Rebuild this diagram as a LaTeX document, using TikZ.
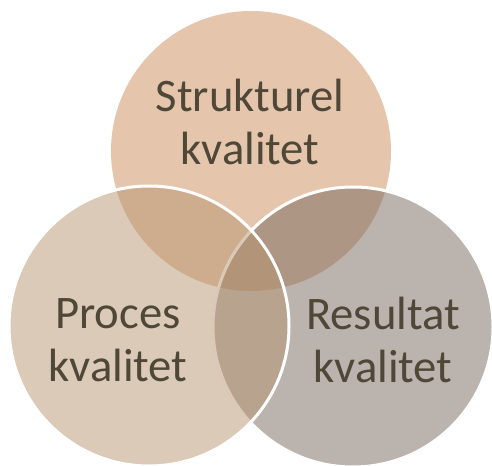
\documentclass[tikz,border=0pt]{standalone}
\usepackage{fontspec}
\setmainfont{Carlito}
\usepackage{tikz}

\definecolor{topfill}{RGB}{203,141,89}
\definecolor{leftfill}{RGB}{183,149,111}
\definecolor{rightfill}{RGB}{119,103,93}
\definecolor{labeltext}{RGB}{79,72,56}

\tikzset{
    venn/.style={circle, minimum size=210pt, inner sep=0, fill opacity=0.5},
    label/.style={text=labeltext, align=center, font=\fontsize{35}{39.75}\selectfont}
}

\begin{document}
\begin{tikzpicture}[x=0.75pt, y=-0.75pt]
    \useasboundingbox (0,0) rectangle (492,466);
    \begin{scope}
        \clip (0,0) rectangle (492,466);
        \node[venn, fill=topfill] (struktur) at (251,151) {};
        \node[venn, fill=rightfill, draw=white, line width=2.25pt] (resultat) at (353,327) {};
        \node[venn, fill=leftfill, draw=white, line width=2.25pt] (proces) at (149,326) {};
    \end{scope}
    \node[label] (strukturtxt) at (250,122) {Strukturel\\kvalitet};
    \node[label] (procestxt) at (118,340) {Proces\\kvalitet};
    \node[label] (resultattxt) at (383,340) {Resultat\\kvalitet};
\end{tikzpicture}
\end{document}
